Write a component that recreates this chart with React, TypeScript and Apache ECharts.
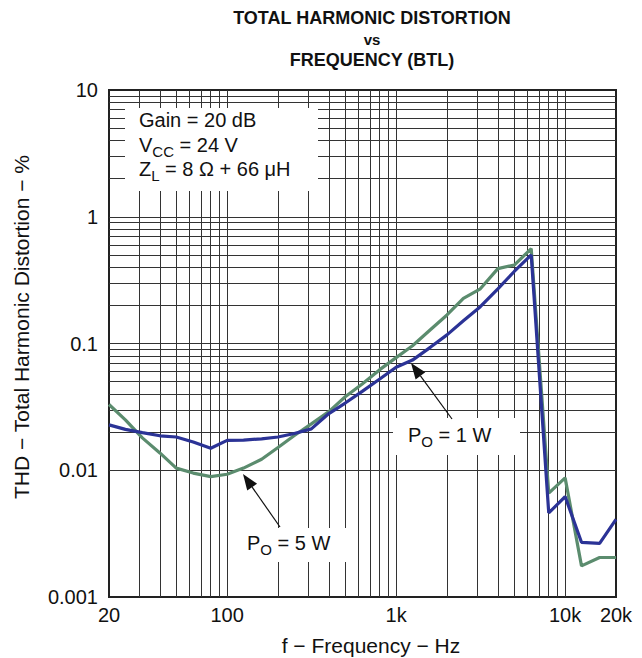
import React, { useEffect, useRef } from "react";
import * as echarts from "echarts";

const FREQ = [20, 25, 31.5, 40, 50, 63, 80, 100, 125, 160, 200, 250, 315, 400, 500, 630, 800, 1000, 1250, 1600, 2000, 2500, 3150, 4000, 5000, 6300, 8000, 10000, 12500, 16000, 20000];
const THD_5W = [0.033, 0.025, 0.018, 0.0137, 0.0104, 0.0095, 0.0089, 0.0093, 0.0104, 0.0122, 0.0151, 0.0188, 0.0232, 0.029, 0.038, 0.048, 0.0622, 0.0774, 0.096, 0.129, 0.168, 0.227, 0.27, 0.39, 0.416, 0.56, 0.0066, 0.0087, 0.00176, 0.00205, 0.00205];
const THD_1W = [0.0228, 0.021, 0.0198, 0.0187, 0.0183, 0.0167, 0.0149, 0.0172, 0.0173, 0.0177, 0.0183, 0.0195, 0.0212, 0.028, 0.0339, 0.0419, 0.0525, 0.065, 0.074, 0.0937, 0.117, 0.151, 0.195, 0.27, 0.37, 0.5, 0.0046, 0.0062, 0.0027, 0.00265, 0.0041];
const X_GRID = [30, 40, 50, 60, 70, 80, 90, 100, 200, 300, 400, 500, 600, 700, 800, 900, 1000, 2000, 3000, 4000, 5000, 6000, 7000, 8000, 9000, 10000];
const Y_GRID = [0.002, 0.003, 0.004, 0.005, 0.006, 0.007, 0.008, 0.009, 0.01, 0.02, 0.03, 0.04, 0.05, 0.06, 0.07, 0.08, 0.09, 0.1, 0.2, 0.3, 0.4, 0.5, 0.6, 0.7, 0.8, 0.9, 1, 2, 3, 4, 5, 6, 7, 8, 9];
const Y_LABELS = ["0.001", "0.01", "0.1", "1", "10"];

const FONT = "'Liberation Sans', Arial, Helvetica, sans-serif";
const MAIN_SIZE = 20;
const SUB_SIZE = 15;
const MAIN_FONT = `${MAIN_SIZE}px ${FONT}`;
const SUB_FONT = `${SUB_SIZE}px ${FONT}`;

let measureCtx: CanvasRenderingContext2D | null = null;
function textWidth(text: string, font: string) {
  if (!measureCtx) measureCtx = document.createElement("canvas").getContext("2d");
  if (!measureCtx) return text.length * 10;
  measureCtx.font = font;
  return measureCtx.measureText(text).width;
}

// text placed by its baseline (converted to a middle-aligned y)
function baseText(x: number, baseline: number, text: string, size: number) {
  return {
    type: "text",
    z: 20,
    style: { x, y: baseline - 0.3465 * size, text, font: `${size}px ${FONT}`, fill: "#111", align: "left", verticalAlign: "middle" },
  };
}

// main letter + subscript + rest
function subText(x: number, baseline: number, main: string, sub: string, rest: string) {
  const w1 = textWidth(main, MAIN_FONT);
  const w2 = textWidth(sub, SUB_FONT);
  return [
    baseText(x, baseline, main, MAIN_SIZE),
    baseText(x + w1, baseline + 5, sub, SUB_SIZE),
    baseText(x + w1 + w2, baseline, rest, MAIN_SIZE),
  ];
}

function arrow(x1: number, y1: number, x2: number, y2: number) {
  const dx = x2 - x1;
  const dy = y2 - y1;
  const len = Math.sqrt(dx * dx + dy * dy);
  const ux = dx / len;
  const uy = dy / len;
  const hl = 16;
  const hw = 6;
  const bx = x2 - ux * hl;
  const by = y2 - uy * hl;
  const nx = -uy * hw;
  const ny = ux * hw;
  return [
    { type: "line", z: 20, shape: { x1, y1, x2: bx, y2: by }, style: { stroke: "#111", lineWidth: 1.2 } },
    {
      type: "polygon",
      z: 20,
      shape: { points: [[x2, y2], [bx + nx, by + ny], [bx - nx, by - ny]] },
      style: { fill: "#111" },
    },
  ];
}

export default function App() {
  const ref = useRef<HTMLDivElement>(null);
  useEffect(() => {
    if (!ref.current) return;
    const chart = echarts.init(ref.current, undefined, { renderer: "svg" });
    const gridLine = { color: "#333", width: 1, type: "solid" };
    chart.setOption({
      animation: false,
      backgroundColor: "#fff",
      grid: { left: 109, right: 26, top: 90, bottom: 61, show: true, borderColor: "#222", borderWidth: 2, backgroundColor: "transparent" },
      xAxis: {
        type: "log",
        logBase: 10,
        min: 20,
        max: 20000,
        axisLine: { show: false },
        axisTick: { show: false },
        splitLine: { show: false },
        axisLabel: {
          fontSize: 20,
          fontFamily: FONT,
          color: "#111",
          margin: 8,
          showMinLabel: true,
          showMaxLabel: true,
          formatter: (v: number) => {
            const r = Math.round(v);
            return r >= 1000 ? r / 1000 + "k" : String(r);
          },
        },
      },
      yAxis: {
        type: "log",
        logBase: 10,
        min: 0.001,
        max: 10,
        axisLine: { show: false },
        axisTick: { show: false },
        splitLine: { show: false },
        axisLabel: {
          fontSize: 20,
          fontFamily: FONT,
          color: "#111",
          margin: 11,
          formatter: (v: number) => {
            const e = Math.round(Math.log10(v));
            return Y_LABELS[e + 3] ?? "";
          },
        },
      },
      series: [
        {
          type: "line",
          data: [],
          z: 1,
          silent: true,
          markLine: {
            silent: true,
            symbol: "none",
            label: { show: false },
            lineStyle: gridLine,
            data: [...X_GRID.map((v) => ({ xAxis: v })), ...Y_GRID.map((v) => ({ yAxis: v }))],
          },
        },
        {
          name: "PO = 5 W",
          type: "line",
          z: 10,
          showSymbol: false,
          lineStyle: { color: "#5b8c6e", width: 3.2 },
          itemStyle: { color: "#5b8c6e" },
          data: FREQ.map((f, i) => [f, THD_5W[i]]),
        },
        {
          name: "PO = 1 W",
          type: "line",
          z: 11,
          showSymbol: false,
          lineStyle: { color: "#2b3396", width: 3.2 },
          itemStyle: { color: "#2b3396" },
          data: FREQ.map((f, i) => [f, THD_1W[i]]),
        },
      ],
      graphic: [
        { type: "text", z: 20, style: { x: 372, y: 18, text: "TOTAL HARMONIC DISTORTION", font: `bold 18px ${FONT}`, fill: "#111", align: "center", verticalAlign: "middle" } },
        { type: "text", z: 20, style: { x: 372, y: 39, text: "vs", font: `bold 15px ${FONT}`, fill: "#111", align: "center", verticalAlign: "middle" } },
        { type: "text", z: 20, style: { x: 372, y: 60, text: "FREQUENCY (BTL)", font: `bold 18px ${FONT}`, fill: "#111", align: "center", verticalAlign: "middle" } },
        { type: "text", z: 20, style: { x: 371, y: 645, text: "f − Frequency − Hz", font: `21px ${FONT}`, fill: "#111", align: "center", verticalAlign: "middle" } },
        { type: "text", z: 20, x: 21, y: 327, rotation: Math.PI / 2, style: { x: 0, y: 0, text: "THD − Total Harmonic Distortion − %", font: `21px ${FONT}`, fill: "#111", align: "center", verticalAlign: "middle" } },
        { type: "rect", z: 15, shape: { x: 125, y: 108, width: 193, height: 83 }, style: { fill: "#fff" } },
        baseText(139, 127, "Gain = 20 dB", MAIN_SIZE),
        ...subText(139, 152, "V", "CC", " = 24 V"),
        ...subText(139, 176, "Z", "L", " = 8 Ω + 66 μH"),
        { type: "rect", z: 15, shape: { x: 393, y: 418, width: 127, height: 37 }, style: { fill: "#fff" } },
        ...subText(408, 442, "P", "O", " = 1 W"),
        { type: "rect", z: 15, shape: { x: 232, y: 528, width: 116, height: 34 }, style: { fill: "#fff" } },
        ...subText(247, 550, "P", "O", " = 5 W"),
        ...arrow(452, 419, 411, 363),
        ...arrow(280, 527, 243, 474),
      ],
    });
    return () => chart.dispose();
  }, []);
  return <div ref={ref} style={{ position: "fixed", left: 0, top: 0, width: 642, height: 658 }} />;
}
